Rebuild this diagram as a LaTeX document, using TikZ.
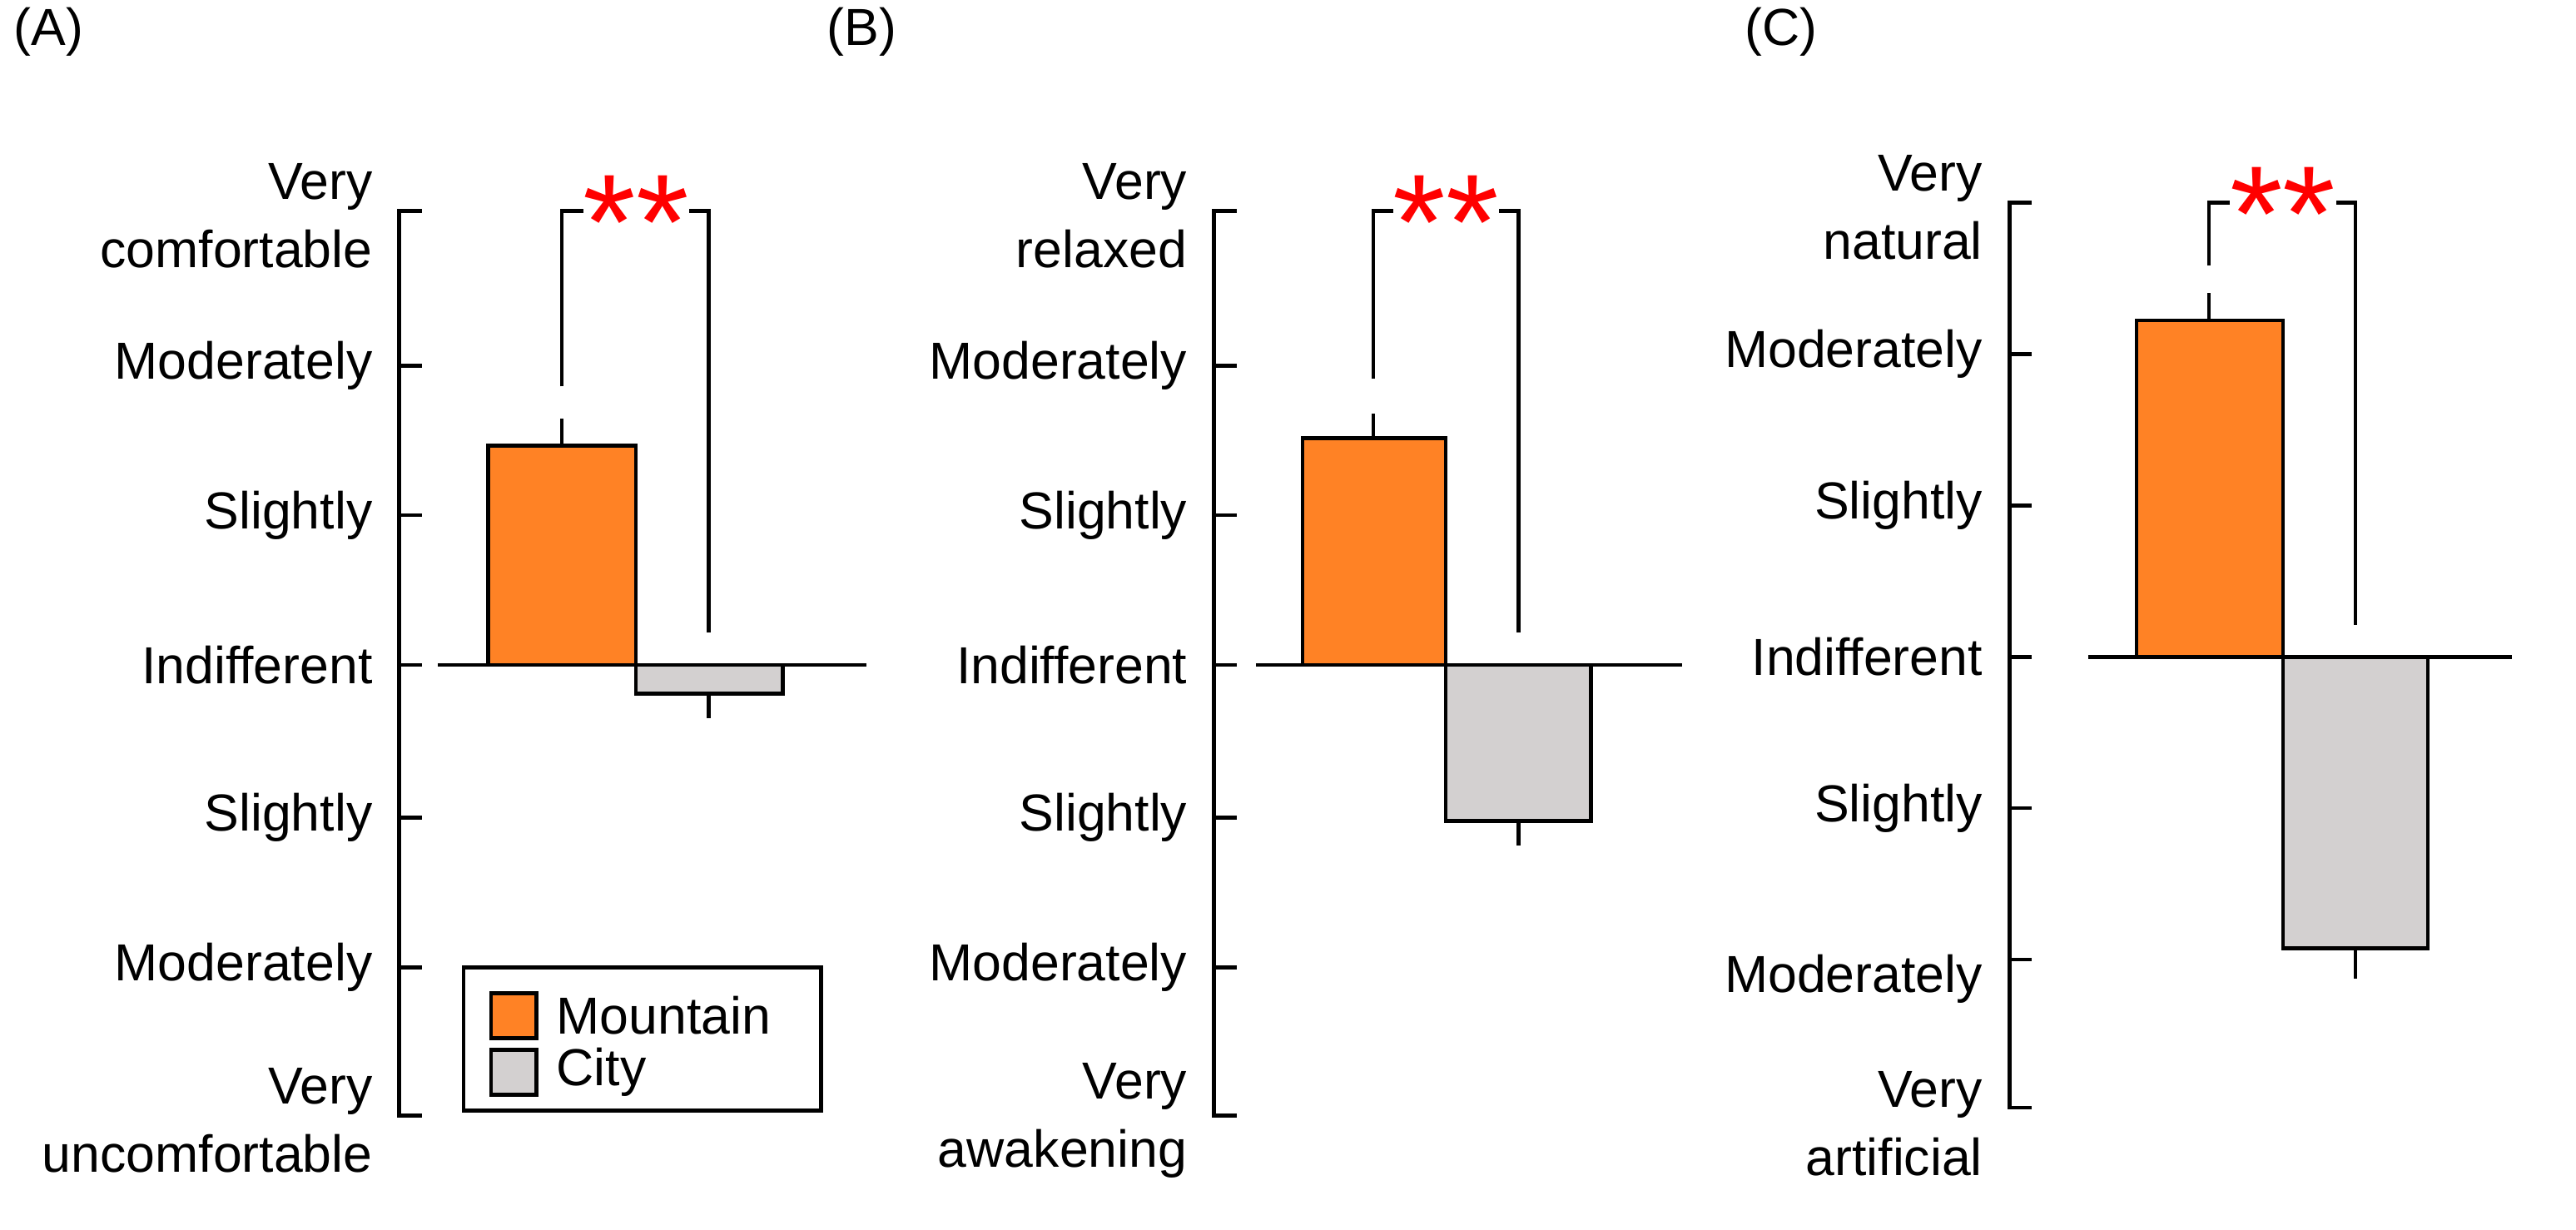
\documentclass[tikz,border=0pt]{standalone}
\usepackage{fontspec}
\setmainfont{Liberation Sans}
\definecolor{mountain}{HTML}{FF8225}
\definecolor{city}{HTML}{D3D0D0}
\tikzset{
  lab/.style={anchor=east, align=right, font=\fontsize{9.2}{12}\selectfont, inner sep=0pt},
  bar/.style={draw=black, line width=0.7pt},
  axis/.style={line width=0.7pt},
  stars/.style={text=red, font=\fontsize{24}{24}\selectfont, inner sep=0pt}
}
\begin{document}
\begin{tikzpicture}[x=0.01cm, y=-0.01cm]
\useasboundingbox (0,0) rectangle (1600,763.6);
% panel A
\node[lab, anchor=west] (pa) at (8,20) {(A)};
\draw[axis] (262,131) -- (248,131) -- (248,693) -- (262,693);
\foreach \y in {227,320,413,508,601} \draw[axis] (248,\y) -- (262,\y);
\node[lab] at (232,134) {Very\\comfortable};
\node[lab] at (232,227) {Moderately};
\node[lab] at (232,320) {Slightly};
\node[lab] at (232,413) {Indifferent};
\node[lab] at (232,508) {Slightly};
\node[lab] at (232,601) {Moderately};
\node[lab] at (232,696) {Very\\uncomfortable};
\draw[axis] (349,277) -- (349,260);
\draw[bar, fill=mountain] (303,413) rectangle (395,277);
\draw[axis] (440,431) -- (440,446);
\draw[bar, fill=city] (395,413) rectangle (486,431);
\draw[axis] (272,413) -- (538,413);
\draw[axis] (349,240) -- (349,131) -- (440,131) -- (440,393);
\node[stars, fill=white] at (395,138) {**};
\draw[axis] (288,601) rectangle (510,690);
\draw[bar, fill=mountain] (305,617) rectangle (333,645);
\draw[bar, fill=city] (305,652) rectangle (333,680);
\node[lab, anchor=west] at (345,631) {Mountain};
\node[lab, anchor=west] at (345,666) {City};
% panel B
\node[lab, anchor=west] (pb) at (513,20) {(B)};
\draw[axis] (768,131) -- (754,131) -- (754,693) -- (768,693);
\foreach \y in {227,320,413,508,601} \draw[axis] (754,\y) -- (768,\y);
\node[lab] at (738,134) {Very\\relaxed};
\node[lab] at (738,227) {Moderately};
\node[lab] at (738,320) {Slightly};
\node[lab] at (738,413) {Indifferent};
\node[lab] at (738,508) {Slightly};
\node[lab] at (738,601) {Moderately};
\node[lab] at (738,696) {Very\\awakening};
\draw[axis] (853,272) -- (853,257);
\draw[bar, fill=mountain] (809,413) rectangle (898,272);
\draw[axis] (943,510) -- (943,525);
\draw[bar, fill=city] (898,413) rectangle (988,510);
\draw[axis] (780,413) -- (1045,413);
\draw[axis] (853,235) -- (853,131) -- (943,131) -- (943,393);
\node[stars, fill=white] at (898,138) {**};
% panel C
\node[lab, anchor=west] (pc) at (1083,20) {(C)};
\draw[axis] (1262,126) -- (1248,126) -- (1248,688) -- (1262,688);
\foreach \y in {220,314,408,502,596} \draw[axis] (1248,\y) -- (1262,\y);
\node[lab] at (1232,129) {Very\\natural};
\node[lab] at (1232,220) {Moderately};
\node[lab] at (1232,314) {Slightly};
\node[lab] at (1232,408) {Indifferent};
\node[lab] at (1232,502) {Slightly};
\node[lab] at (1232,608) {Moderately};
\node[lab] at (1232,698) {Very\\artificial};
\draw[axis] (1372,199) -- (1372,182);
\draw[bar, fill=mountain] (1327,408) rectangle (1418,199);
\draw[axis] (1463,589) -- (1463,608);
\draw[bar, fill=city] (1418,408) rectangle (1508,589);
\draw[axis] (1297,408) -- (1560,408);
\draw[axis] (1372,165) -- (1372,126) -- (1463,126) -- (1463,388);
\node[stars, fill=white] at (1418,133) {**};
\end{tikzpicture}
\end{document}
